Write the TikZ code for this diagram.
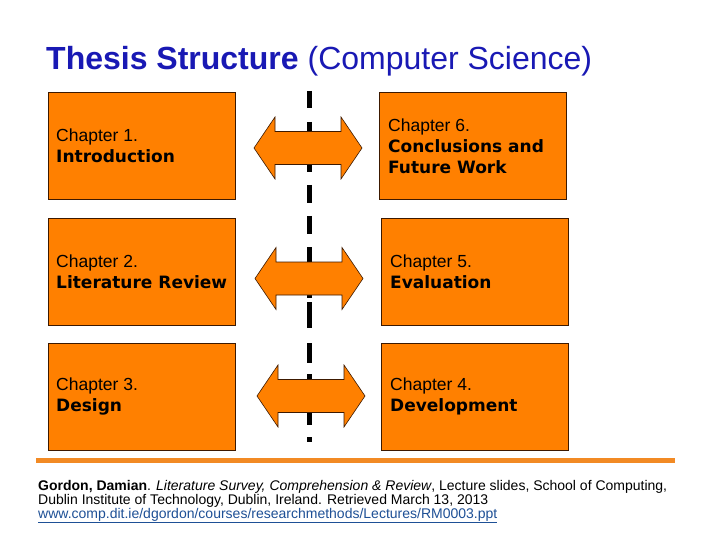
\documentclass[tikz,border=0pt]{standalone}
\usepackage{fontspec}
\setmainfont{Liberation Sans}
\newfontfamily\dejavu{DejaVu Sans}
\newcommand\chb{\dejavu\bfseries\fontsize{17}{21}\selectfont}
\definecolor{orng}{RGB}{255,128,0}
\definecolor{boxline}{RGB}{60,25,0}
\definecolor{titleblue}{RGB}{25,25,180}
\definecolor{linkblue}{RGB}{30,80,150}
\definecolor{rulecol}{RGB}{242,138,36}
\begin{document}
\begin{tikzpicture}[x=1pt,y=-1pt,
  chbox/.style={draw=boxline, line width=0.8pt, fill=orng, anchor=north west,
    inner sep=0pt, minimum width=187pt, minimum height=107pt},
  chtext/.style={anchor=west, inner sep=0pt, align=left,
    font={\fontsize{17.5}{21}\selectfont}},
  cite/.style={anchor=base west, inner sep=0pt, font={\fontsize{14}{14}\selectfont}}
]
\useasboundingbox (0,0) rectangle (720,540);
\fill[white] (0,0) rectangle (720,540);
% title
\node[anchor=base west, inner sep=0pt, text=titleblue, font={\fontsize{32}{36}\selectfont}] (title) at (46,70) {\textbf{Thesis Structure} (Computer Science)};
% boxes
\node[chbox] (c1) at (48,92) {};
\node[chbox] (c2) at (48,218) {};
\node[chbox] (c3) at (48,343) {};
\node[chbox] (c6) at (379,92) {};
\node[chbox] (c5) at (381,218) {};
\node[chbox] (c4) at (381,343) {};
\node[chtext] (t1) at ([xshift=8pt]c1.west) {Chapter 1.\\{\chb Introduction}};
\node[chtext] (t2) at ([xshift=8pt]c2.west) {Chapter 2.\\{\chb Literature Review}};
\node[chtext] (t3) at ([xshift=8pt]c3.west) {Chapter 3.\\{\chb Design}};
\node[chtext] (t6) at ([xshift=9pt]c6.west) {Chapter 6.\\{\chb Conclusions and}\\{\chb Future Work}};
\node[chtext] (t5) at ([xshift=9pt]c5.west) {Chapter 5.\\{\chb Evaluation}};
\node[chtext] (t4) at ([xshift=9pt]c4.west) {Chapter 4.\\{\chb Development}};
% dashed divider
\foreach \a/\b in {91/108,122/133,154/172,185/203,216/234,247/263,278/298,302/328,343/363,374/383,408/425,437/442}
  \draw[line width=5pt, black] (309,\a) -- (309,\b);
% arrows
\path[fill=orng, draw=boxline, line width=0.6pt]
  (254,148) -- (275,117) -- (275,131.5) -- (341,131.5) -- (341,117) -- (362,148)
  -- (341,179) -- (341,164.5) -- (275,164.5) -- (275,179) -- cycle;
\path[fill=orng, draw=boxline, line width=0.6pt]
  (255,278.5) -- (276,247.5) -- (276,262) -- (342,262) -- (342,247.5) -- (363,278.5)
  -- (342,309.5) -- (342,295) -- (276,295) -- (276,309.5) -- cycle;
\path[fill=orng, draw=boxline, line width=0.6pt]
  (257,396) -- (278,365) -- (278,379.5) -- (344,379.5) -- (344,365) -- (365,396)
  -- (344,427) -- (344,412.5) -- (278,412.5) -- (278,427) -- cycle;
% bottom rule
\draw[rulecol, line width=5pt] (36,460) -- (675,460);
% citation
\node[cite] (l1) at (38,490) {\textbf{Gordon, Damian}. \textit{Literature Survey, Comprehension \& Review}, Lecture slides, School of Computing,};
\node[cite] (l2) at (38,504) {Dublin Institute of Technology, Dublin, Ireland. Retrieved March 13, 2013};
\node[cite, text=linkblue] (l3) at (38,518) {\underline{www.comp.dit.ie/dgordon/courses/researchmethods/Lectures/RM0003.ppt}};
\end{tikzpicture}
\end{document}
